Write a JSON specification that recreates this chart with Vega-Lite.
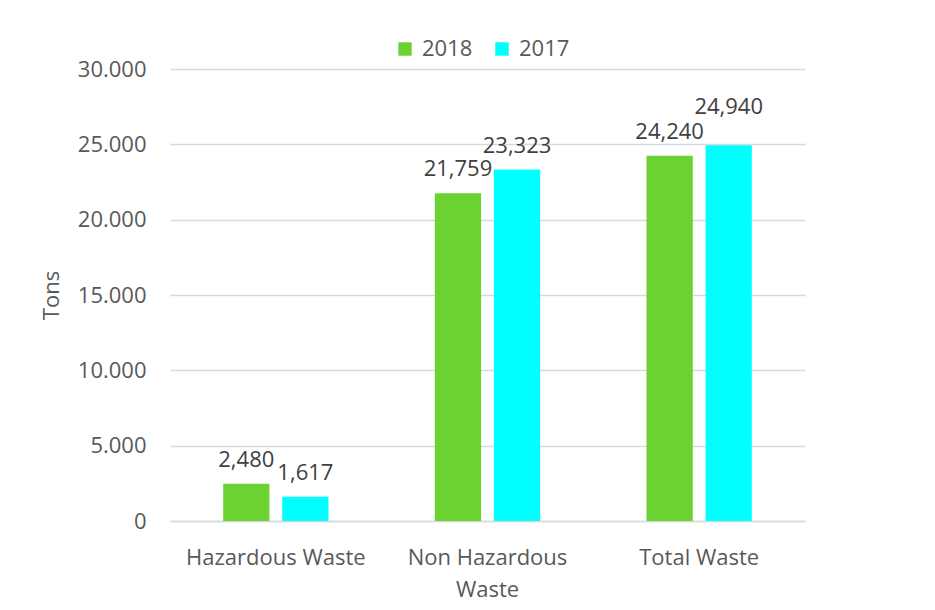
{
  "$schema": "https://vega.github.io/schema/vega-lite/v6.json",
  "autosize": "none",
  "width": 635,
  "height": 452,
  "padding": {"left": 170, "top": 69, "right": 130, "bottom": 89},
  "background": "white",
  "config": {
    "view": {"stroke": null},
    "font": "Open Sans",
    "axis": {"labelFont": "Open Sans", "titleFont": "Open Sans"},
    "legend": {"labelFont": "Open Sans"}
  },
  "data": {
    "values": [
      {"category": "Hazardous Waste", "year": "2018", "tons": 2480},
      {"category": "Hazardous Waste", "year": "2017", "tons": 1617},
      {"category": "Non Hazardous Waste", "year": "2018", "tons": 21759},
      {"category": "Non Hazardous Waste", "year": "2017", "tons": 23323},
      {"category": "Total Waste", "year": "2018", "tons": 24240},
      {"category": "Total Waste", "year": "2017", "tons": 24940}
    ]
  },
  "encoding": {
    "x": {
      "field": "category",
      "type": "nominal",
      "sort": null,
      "scale": {"paddingInner": 0, "paddingOuter": 0},
      "axis": {
        "title": null,
        "labelAngle": 0,
        "labelFontSize": 22,
        "labelColor": "#595959",
        "labelPadding": 26,
        "labelLineHeight": 32,
        "labelExpr": "datum.value == 'Non Hazardous Waste' ? ['Non Hazardous', 'Waste'] : datum.value",
        "ticks": false,
        "domainColor": "#d9d9d9",
        "domainWidth": 1.5,
        "grid": false
      }
    },
    "xOffset": {
      "field": "year",
      "type": "nominal",
      "sort": ["2018", "2017"],
      "scale": {"paddingInner": 0.217, "paddingOuter": 0.9}
    },
    "y": {
      "field": "tons",
      "type": "quantitative",
      "scale": {"domain": [0, 30000], "nice": false},
      "axis": {
        "title": "Tons",
        "titleFontSize": 22,
        "titleFontWeight": "normal",
        "titleColor": "#595959",
        "titlePadding": 14,
        "labelFontSize": 22,
        "labelColor": "#595959",
        "labelPadding": 24,
        "values": [0, 5000, 10000, 15000, 20000, 25000, 30000],
        "labelExpr": "replace(format(datum.value, ','), ',', '.')",
        "ticks": false,
        "domain": false,
        "gridColor": "#d9d9d9",
        "gridWidth": 1.5
      }
    }
  },
  "layer": [
    {
      "mark": {"type": "bar"},
      "encoding": {
        "color": {
          "field": "year",
          "type": "nominal",
          "sort": ["2018", "2017"],
          "scale": {"domain": ["2018", "2017"], "range": ["#6cd232", "#00ffff"]},
          "legend": {
            "title": null,
            "orient": "none",
            "legendX": 224,
            "legendY": -31,
            "direction": "horizontal",
            "symbolType": "square",
            "symbolSize": 180,
            "symbolStrokeWidth": 0,
            "labelFontSize": 22,
            "labelColor": "#595959",
            "labelOffset": 6,
            "columnPadding": 18
          }
        }
      }
    },
    {
      "transform": [{"filter": "datum.tons != 24940"}],
      "mark": {"type": "text", "baseline": "alphabetic", "dy": -17, "fontSize": 22, "color": "#404040"},
      "encoding": {
        "text": {"field": "tons", "type": "quantitative", "format": ","}
      }
    },
    {
      "transform": [{"filter": "datum.tons == 24940"}],
      "mark": {"type": "text", "baseline": "alphabetic", "dy": -31, "fontSize": 22, "color": "#404040"},
      "encoding": {
        "text": {"field": "tons", "type": "quantitative", "format": ","}
      }
    }
  ]
}
